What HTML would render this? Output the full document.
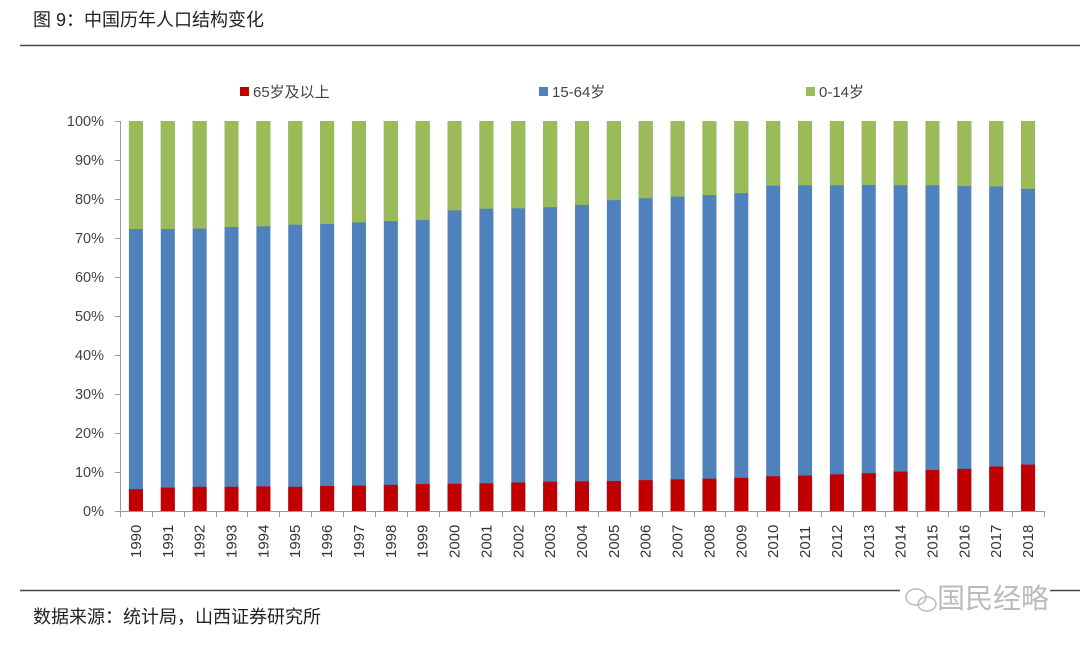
<!DOCTYPE html>
<html><head><meta charset="utf-8"><style>
body{margin:0;background:#fff;width:1080px;height:646px;overflow:hidden;font-family:"Liberation Sans","Noto Sans CJK SC",sans-serif}
</style></head><body>
<svg width="1080" height="646" xmlns="http://www.w3.org/2000/svg" font-family="Liberation Sans, Noto Sans CJK SC, sans-serif">
<text x="33" y="26" font-size="18" fill="#222">图 9：中国历年人口结构变化</text>
<line x1="20" y1="45.5" x2="1080" y2="45.5" stroke="#444" stroke-width="1.5"/>
<line x1="20" y1="590.5" x2="1080" y2="590.5" stroke="#444" stroke-width="1.5"/>
<text x="33" y="623" font-size="18" fill="#222">数据来源：统计局，山西证券研究所</text>
<rect x="900" y="580" width="150" height="30" fill="#fff"/>
<text x="937" y="608" font-size="28" fill="#bbb">国民经略</text>
<g fill="none" stroke="#bbb" stroke-width="1.5"><ellipse cx="916" cy="597" rx="10" ry="8"/><ellipse cx="927" cy="604" rx="9" ry="7"/></g>
<!-- legend -->
<rect x="240" y="87" width="9" height="9" fill="#c00000"/><text x="253" y="97" font-size="15" fill="#444">65岁及以上</text>
<rect x="539" y="87" width="9" height="9" fill="#4f81bd"/><text x="552" y="97" font-size="15" fill="#444">15-64岁</text>
<rect x="806" y="87" width="9" height="9" fill="#9bbb59"/><text x="819" y="97" font-size="15" fill="#444">0-14岁</text>
<!-- y axis -->
<g font-size="14.5" fill="#444" text-anchor="end">
<text x="104" y="516">0%</text><text x="104" y="477">10%</text><text x="104" y="438">20%</text><text x="104" y="399">30%</text><text x="104" y="360">40%</text><text x="104" y="321">50%</text><text x="104" y="282">60%</text><text x="104" y="243">70%</text><text x="104" y="204">80%</text><text x="104" y="165">90%</text><text x="104" y="126">100%</text>
</g>
<g stroke="#999" stroke-width="1">
<line x1="120.5" y1="121" x2="120.5" y2="511"/>
<line x1="115" y1="511.5" x2="1044" y2="511.5"/>
<line x1="115" y1="472.5" x2="120" y2="472.5"/><line x1="115" y1="433.5" x2="120" y2="433.5"/><line x1="115" y1="394.5" x2="120" y2="394.5"/><line x1="115" y1="355.5" x2="120" y2="355.5"/><line x1="115" y1="316.5" x2="120" y2="316.5"/><line x1="115" y1="277.5" x2="120" y2="277.5"/><line x1="115" y1="238.5" x2="120" y2="238.5"/><line x1="115" y1="199.5" x2="120" y2="199.5"/><line x1="115" y1="160.5" x2="120" y2="160.5"/><line x1="115" y1="121.5" x2="120" y2="121.5"/>
</g>
<g id="bars"></g>
<g id="ticks" stroke="#999"></g>
<g id="xl" font-size="15" fill="#333"></g>
<script>
var red=[5.6,6.0,6.2,6.2,6.3,6.2,6.4,6.5,6.7,6.9,7.0,7.1,7.3,7.5,7.6,7.7,7.9,8.1,8.3,8.5,8.9,9.1,9.4,9.7,10.1,10.5,10.8,11.4,11.9];
var grn=[27.7,27.7,27.6,27.2,27.0,26.6,26.4,26.0,25.7,25.4,22.9,22.5,22.4,22.1,21.5,20.3,19.8,19.4,19.0,18.5,16.6,16.5,16.5,16.4,16.5,16.5,16.7,16.8,17.4];
var ns="http://www.w3.org/2000/svg",b=document.getElementById('bars'),t=document.getElementById('ticks'),xl=document.getElementById('xl');
var step=(1044-120)/29;
function r(x,y,w,h,c){var e=document.createElementNS(ns,'rect');e.setAttribute('x',x);e.setAttribute('y',y);e.setAttribute('width',w);e.setAttribute('height',h);e.setAttribute('fill',c);b.appendChild(e);}
for(var i=0;i<29;i++){var cx=120+step*(i+0.5),x=cx-7,s=3.9;
r(x,121,14,390,'#4f81bd');r(x,511-red[i]*s,14,red[i]*s,'#c00000');r(x,121,14,grn[i]*s,'#9bbb59');
var tx=document.createElementNS(ns,'text');tx.setAttribute('transform','translate('+(cx+5)+',558) rotate(-90)');tx.textContent=1990+i;xl.appendChild(tx);}
for(var k=0;k<=29;k++){var l=document.createElementNS(ns,'line'),xx=Math.round(120+step*k)+0.5;l.setAttribute('x1',xx);l.setAttribute('x2',xx);l.setAttribute('y1',511);l.setAttribute('y2',517);t.appendChild(l);}
</script>
</svg>
</body></html>
